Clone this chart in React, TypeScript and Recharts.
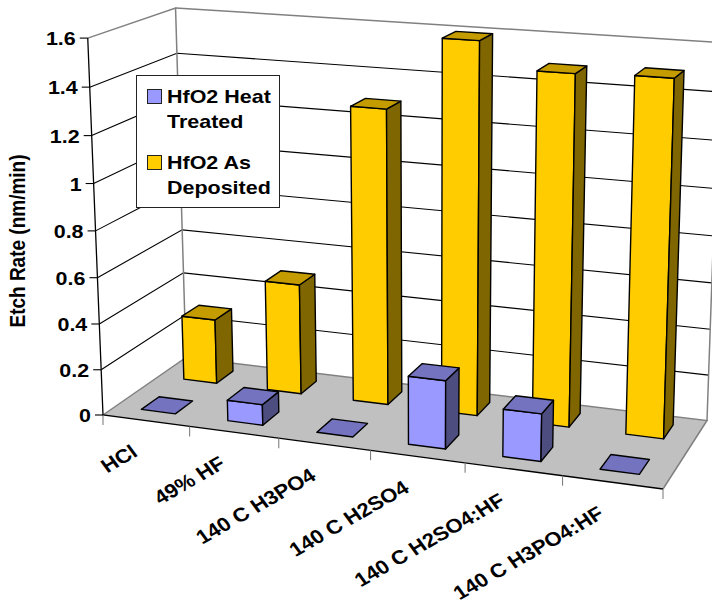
import { BarChart, Bar, XAxis, YAxis, CartesianGrid, Legend } from "recharts";

const categories = ["HCl", "49% HF", "140 C H3PO4", "140 C H2SO4", "140 C H2SO4:HF", "140 C H3PO4:HF"];
const heatTreated = [0, 0.09, 0, 0.29, 0.2, 0];
const asDeposited = [0.29, 0.49, 1.285, 1.595, 1.488, 1.497];
const valueTicks = [0, 0.2, 0.4, 0.6, 0.8, 1, 1.2, 1.4, 1.6];

const chartData = categories.map((name, i) => ({
    name,
    heatTreated: heatTreated[i],
    asDeposited: asDeposited[i],
}));

const WIDTH = 712;
const HEIGHT = 606;
const FONT = "'Liberation Sans', Arial, sans-serif";
const TEXT_STRETCH = 1.13;

// Corners of the 3D box on screen
const A = { x: 103, y: 415 }; // floor front left
const B = { x: 663, y: 489 }; // floor front right
const C = { x: 707, y: 420.5 }; // floor back right
const D = { x: 186, y: 357.5 }; // floor back left
const E = { x: 87.5, y: 38 }; // top front left
const H = { x: 176, y: 9.5 }; // top back left
const G = { x: 720, y: 41 }; // top back right, just off the canvas

// Floor homography
const dx1 = B.x - C.x;
const dx2 = D.x - C.x;
const dy1 = B.y - C.y;
const dy2 = D.y - C.y;
const sx = A.x - B.x + C.x - D.x;
const sy = A.y - B.y + C.y - D.y;
const den = dx1 * dy2 - dx2 * dy1;
const pg = (sx * dy2 - dx2 * sy) / den;
const ph = (dx1 * sy - sx * dy1) / den;
const ax = B.x - A.x + pg * B.x;
const bx = D.x - A.x + ph * D.x;
const ay = B.y - A.y + pg * B.y;
const by = D.y - A.y + ph * D.y;

// Height column, averaged over the three top corners
const restX = (P: { x: number }, u: number, v: number) => P.x * (pg * u + ph * v + 1) - (ax * u + bx * v + A.x);
const restY = (P: { y: number }, u: number, v: number) => P.y * (pg * u + ph * v + 1) - (ay * u + by * v + A.y);
const pi = (restX(E, 0, 0) - restX(G, 1, 1)) / (G.x - E.x);
const cx = (restX(E, 0, 0) + E.x * pi + restX(H, 0, 1) + H.x * pi + restX(G, 1, 1) + G.x * pi) / 3;
const cy = (restY(E, 0, 0) + E.y * pi + restY(H, 0, 1) + H.y * pi + restY(G, 1, 1) + G.y * pi) / 3;

// u: along categories, v: depth, w: height, all 0..1
const project = (u: number, v: number, w: number) => {
    const q = pg * u + ph * v + pi * w + 1;
    return {
        x: (ax * u + bx * v + cx * w + A.x) / q,
        y: (ay * u + by * v + cy * w + A.y) / q,
    };
};

const pts = (list: number[][]) =>
    list
        .map(([u, v, w]) => {
            const p = project(u, v, w);
            return `${p.x.toFixed(2)},${p.y.toFixed(2)}`;
        })
        .join(" ");

const Label3D = ({ x, y, angle = 0, anchor = "end", size = 19, children }: any) => (
    <text
        transform={`translate(${x} ${y}) scale(${TEXT_STRETCH} 1) rotate(${angle})`}
        textAnchor={anchor}
        fontFamily={FONT}
        fontWeight={700}
        fontSize={size}
        fill="#000"
    >
        {children}
    </text>
);

// Floor, wall outlines and the value axis title
const Frame = () => (
    <g>
        <polygon points={pts([[0, 0, 0], [1, 0, 0], [1, 1, 0], [0, 1, 0]])} fill="#C0C0C0" stroke="none" />
        <polyline
            points={pts([[0, 0, 0], [0, 1, 0], [1, 1, 0], [1, 0, 0]])}
            fill="none"
            stroke="#808080"
            strokeWidth={1.5}
        />
        <polyline
            points={pts([[0, 0, 1], [0, 1, 1], [0, 1, 0]])}
            fill="none"
            stroke="#808080"
            strokeWidth={1.5}
        />
        <polyline
            points={pts([[0, 1, 1], [1, 1, 1], [1, 1, 0]])}
            fill="none"
            stroke="#808080"
            strokeWidth={1.5}
        />
        <polyline points={pts([[0, 0, 1], [0, 0, 0], [1, 0, 0]])} fill="none" stroke="#000" strokeWidth={1.3} />
        <text
            transform={`translate(25 241) scale(${TEXT_STRETCH} 1) rotate(-90)`}
            textAnchor="middle"
            fontFamily={FONT}
            fontWeight={700}
            fontSize={19}
        >
            Etch Rate (nm/min)
        </text>
    </g>
);

// Gridline wrapped around the left and back walls
const WallLine = ({ y1, index }: any) => {
    const w = 1 - y1 / HEIGHT;
    if (w < 0.001 || w > 0.999) return <g key={index} />;
    return (
        <polyline
            key={index}
            points={pts([[0, 0, w], [0, 1, w], [1, 1, w]])}
            fill="none"
            stroke="#000"
            strokeWidth={1.1}
        />
    );
};

const ValueTick = ({ y, payload }: any) => {
    const p = project(0, 0, 1 - y / HEIGHT);
    return (
        <g>
            <line x1={p.x - 8} y1={p.y} x2={p.x} y2={p.y} stroke="#000" strokeWidth={1.1} />
            <Label3D x={p.x - 12} y={p.y + 7}>
                {payload.value}
            </Label3D>
        </g>
    );
};

const CategoryTick = ({ x, index, payload }: any) => {
    const band = 1 / categories.length;
    const mid = x / WIDTH;
    const left = mid - band / 2;
    const right = mid + band / 2;
    const mark = (u: number) => {
        const p = project(u, 0, 0);
        return <line x1={p.x} y1={p.y} x2={p.x} y2={p.y + 10} stroke="#808080" strokeWidth={1.1} />;
    };
    const c = project(mid, 0, 0);
    return (
        <g>
            {mark(left)}
            {index === categories.length - 1 && mark(right)}
            <Label3D x={c.x - 7} y={c.y + 34.5} angle={-33} size={19.5}>
                {payload.value}
            </Label3D>
        </g>
    );
};

// Square column with front, side and top faces
const Column = ({ x, y, width, height, front, top, side, near, far }: any) => {
    const u0 = x / WIDTH;
    const u1 = (x + width) / WIDTH;
    const w = 1 - y / HEIGHT;
    const base = 1 - (y + height) / HEIGHT;
    const outline = { stroke: "#000", strokeWidth: 1.4, strokeLinejoin: "round" as const };
    return (
        <g>
            {w > base && (
                <>
                    <polygon points={pts([[u0, near, base], [u1, near, base], [u1, near, w], [u0, near, w]])} fill={front} {...outline} />
                    <polygon points={pts([[u1, near, base], [u1, far, base], [u1, far, w], [u1, near, w]])} fill={side} {...outline} />
                </>
            )}
            <polygon points={pts([[u0, near, w], [u1, near, w], [u1, far, w], [u0, far, w]])} fill={top} {...outline} />
        </g>
    );
};

const LegendBox = ({ payload }: any) => (
    <div
        style={{
            boxSizing: "border-box",
            width: 144,
            height: 133,
            background: "#fff",
            border: "1px solid #222",
            position: "relative",
            fontFamily: FONT,
            fontWeight: 700,
            fontSize: 19,
            lineHeight: "25px",
            textAlign: "left",
        }}
    >
        {[...(payload ?? [])].reverse().map((item: any, i: number) => (
            <div key={item.value} style={{ position: "absolute", left: 10, top: 8 + i * 66, display: "flex" }}>
                <span
                    style={{
                        boxSizing: "border-box",
                        width: 15,
                        height: 15,
                        marginTop: 5,
                        background: item.color,
                        border: "1px solid #222",
                    }}
                />
                <span
                    style={{
                        marginLeft: 5,
                        width: 95,
                        transform: `scaleX(${TEXT_STRETCH})`,
                        transformOrigin: "left",
                    }}
                >
                    {item.value}
                </span>
            </div>
        ))}
    </div>
);

export default function App() {
    return (
        <div style={{ position: "absolute", left: 0, top: 0, width: WIDTH, height: HEIGHT, background: "#fff" }}>
            <BarChart
                width={WIDTH}
                height={HEIGHT}
                data={chartData}
                margin={{ top: 0, right: 0, bottom: -1, left: -1 }}
                barCategoryGap="30%"
            >
                <Frame />
                <CartesianGrid vertical={false} horizontal={(props: any) => <WallLine {...props} />} />
                <XAxis xAxisId="back" dataKey="name" height={1} axisLine={false} tickLine={false} interval={0} tick={<CategoryTick />} />
                <XAxis xAxisId="front" dataKey="name" hide />
                <YAxis domain={[0, 1.6]} ticks={valueTicks} width={1} interval={0} axisLine={false} tickLine={false} tick={<ValueTick />} />
                <Legend
                    layout="vertical"
                    align="center"
                    verticalAlign="middle"
                    wrapperStyle={{ left: 136, top: 75, width: 144, height: 133 }}
                    content={<LegendBox />}
                />
                <Bar
                    xAxisId="back"
                    dataKey="asDeposited"
                    name="HfO2 As Deposited"
                    fill="#FFCC00"
                    isAnimationActive={false}
                    shape={(p: any) => <Column {...p} front="#FFCC00" top="#C49C00" side="#806600" near={0.66} far={0.875} />}
                />
                <Bar
                    xAxisId="front"
                    dataKey="heatTreated"
                    name="HfO2 Heat Treated"
                    fill="#9999FF"
                    isAnimationActive={false}
                    shape={(p: any) => <Column {...p} front="#9999FF" top="#7373BF" side="#4D4D80" near={0.145} far={0.355} />}
                />
            </BarChart>
        </div>
    );
}
